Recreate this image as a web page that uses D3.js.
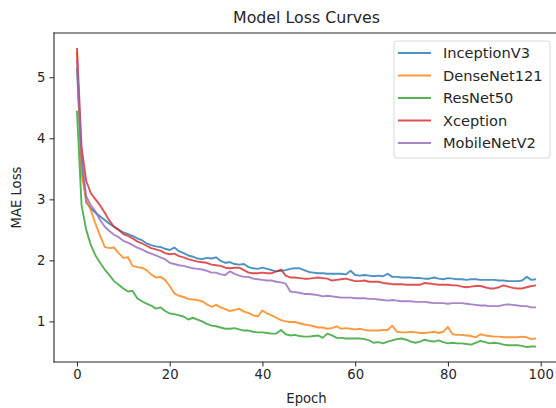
<!DOCTYPE html>
<html>
<head>
<meta charset="utf-8">
<script src="https://cdn.jsdelivr.net/npm/d3@7"></script>
<style>
  body { margin: 0; background: #fff; }
  svg { display: block; font-family: "DejaVu Sans", sans-serif; }
</style>
</head>
<body>
<div id="chart"></div>
<script>
const WIDTH = 556;
const HEIGHT = 408;

const MARGIN = {
  TOP: 33,
  RIGHT: -3,
  BOTTOM: 46,
  LEFT: 54,
};

const epochs = d3.range(0, 100);
const xTicks = [0, 20, 40, 60, 80, 100];
const yTicks = [1, 2, 3, 4, 5];

const models = ["InceptionV3", "DenseNet121", "ResNet50", "Xception", "MobileNetV2"];
const colors = ["#1f77b4", "#ff7f0e", "#2ca02c", "#d62728", "#9467bd"];

const inceptionV3 = [
  5.15, 3.55, 2.95, 2.85, 2.78, 2.72, 2.66, 2.60, 2.55, 2.50,
  2.46, 2.43, 2.40, 2.36, 2.33, 2.28, 2.25, 2.23, 2.22, 2.19,
  2.17, 2.21, 2.15, 2.12, 2.08, 2.06, 2.03, 2.02, 2.04, 2.03,
  2.05, 1.99, 1.96, 1.97, 1.94, 1.93, 1.94, 1.89, 1.87, 1.86,
  1.88, 1.86, 1.84, 1.82, 1.83, 1.84, 1.86, 1.87, 1.87, 1.84,
  1.81, 1.80, 1.79, 1.79, 1.78, 1.78, 1.78, 1.78, 1.77, 1.83,
  1.76, 1.75, 1.76, 1.75, 1.74, 1.75, 1.74, 1.78, 1.73, 1.73,
  1.72, 1.72, 1.72, 1.71, 1.71, 1.70, 1.70, 1.72, 1.70, 1.69,
  1.71, 1.70, 1.69, 1.69, 1.68, 1.69, 1.69, 1.68, 1.68, 1.68,
  1.68, 1.67, 1.67, 1.66, 1.66, 1.66, 1.67, 1.73, 1.68, 1.69,
];

const denseNet121 = [
  5.42, 3.40, 3.00, 2.82, 2.60, 2.40, 2.22, 2.20, 2.21, 2.12,
  2.04, 2.05, 1.91, 1.89, 1.88, 1.84, 1.77, 1.72, 1.73, 1.68,
  1.58, 1.46, 1.42, 1.40, 1.37, 1.36, 1.35, 1.33, 1.28, 1.24,
  1.27, 1.23, 1.20, 1.17, 1.19, 1.21, 1.16, 1.14, 1.10, 1.08,
  1.18, 1.13, 1.10, 1.06, 1.02, 1.00, 0.99, 0.99, 0.97, 0.95,
  0.94, 0.92, 0.90, 0.90, 0.88, 0.89, 0.92, 0.88, 0.89, 0.88,
  0.87, 0.88, 0.86, 0.85, 0.85, 0.85, 0.86, 0.86, 0.93, 0.83,
  0.82, 0.82, 0.83, 0.82, 0.81, 0.81, 0.82, 0.83, 0.81, 0.83,
  0.91, 0.79, 0.78, 0.78, 0.77, 0.76, 0.74, 0.79, 0.77, 0.76,
  0.75, 0.75, 0.74, 0.74, 0.74, 0.74, 0.75, 0.74, 0.71, 0.72,
];

const resNet50 = [
  4.45, 2.90, 2.50, 2.25, 2.08, 1.96, 1.85, 1.76, 1.66, 1.60,
  1.54, 1.49, 1.50, 1.38, 1.33, 1.29, 1.26, 1.21, 1.23, 1.17,
  1.13, 1.12, 1.10, 1.08, 1.03, 1.06, 1.03, 1.00, 0.96, 0.93,
  0.92, 0.90, 0.88, 0.88, 0.89, 0.87, 0.85, 0.85, 0.83, 0.82,
  0.82, 0.81, 0.80, 0.80, 0.86, 0.79, 0.77, 0.78, 0.76, 0.75,
  0.75, 0.76, 0.77, 0.73, 0.80, 0.77, 0.73, 0.73, 0.72, 0.72,
  0.72, 0.72, 0.71, 0.69, 0.65, 0.66, 0.64, 0.67, 0.69, 0.71,
  0.72, 0.70, 0.67, 0.65, 0.67, 0.70, 0.68, 0.67, 0.69, 0.66,
  0.64, 0.65, 0.64, 0.64, 0.63, 0.62, 0.65, 0.68, 0.66, 0.64,
  0.65, 0.64, 0.62, 0.61, 0.61, 0.61, 0.60, 0.58, 0.59, 0.59,
];

const xception = [
  5.48, 3.85, 3.30, 3.10, 3.00, 2.90, 2.78, 2.65, 2.55, 2.50,
  2.43, 2.40, 2.36, 2.31, 2.28, 2.24, 2.20, 2.18, 2.16, 2.12,
  2.10, 2.11, 2.07, 2.05, 2.02, 2.00, 1.98, 1.97, 1.96, 1.93,
  1.92, 1.91, 1.88, 1.87, 1.88, 1.88, 1.84, 1.80, 1.79, 1.79,
  1.80, 1.79, 1.79, 1.82, 1.85, 1.75, 1.72, 1.72, 1.71, 1.70,
  1.70, 1.71, 1.72, 1.71, 1.70, 1.67, 1.68, 1.69, 1.70, 1.68,
  1.66, 1.66, 1.67, 1.65, 1.65, 1.65, 1.63, 1.62, 1.61, 1.61,
  1.61, 1.60, 1.60, 1.60, 1.60, 1.63, 1.62, 1.61, 1.60, 1.60,
  1.60, 1.59, 1.59, 1.57, 1.56, 1.57, 1.58, 1.58, 1.56, 1.54,
  1.54, 1.56, 1.59, 1.57, 1.55, 1.54, 1.54, 1.56, 1.58, 1.59,
];

const mobileNetV2 = [
  5.28, 3.70, 3.05, 2.90, 2.80, 2.66, 2.55, 2.48, 2.42, 2.38,
  2.32, 2.29, 2.25, 2.21, 2.18, 2.14, 2.11, 2.08, 2.05, 2.02,
  1.96, 1.94, 1.92, 1.91, 1.89, 1.87, 1.86, 1.85, 1.83, 1.80,
  1.80, 1.77, 1.76, 1.82, 1.78, 1.75, 1.73, 1.73, 1.70, 1.69,
  1.68, 1.67, 1.67, 1.65, 1.64, 1.62, 1.49, 1.48, 1.47, 1.45,
  1.45, 1.44, 1.43, 1.41, 1.42, 1.41, 1.40, 1.39, 1.39, 1.39,
  1.38, 1.38, 1.38, 1.37, 1.37, 1.36, 1.35, 1.34, 1.35, 1.34,
  1.33, 1.33, 1.33, 1.32, 1.32, 1.32, 1.31, 1.30, 1.30, 1.30,
  1.29, 1.30, 1.30, 1.30, 1.29, 1.28, 1.27, 1.26, 1.26, 1.25,
  1.25, 1.25, 1.27, 1.28, 1.27, 1.26, 1.25, 1.25, 1.23, 1.23,
];

const seriesValues = [inceptionV3, denseNet121, resNet50, xception, mobileNetV2];

const innerWidth = WIDTH - MARGIN.LEFT - MARGIN.RIGHT;
const innerHeight = HEIGHT - MARGIN.TOP - MARGIN.BOTTOM;
const visibleWidth = WIDTH - MARGIN.LEFT;

const svg = d3
  .select("#chart")
  .append("svg")
  .attr("width", WIDTH)
  .attr("height", HEIGHT);

const g = svg
  .append("g")
  .attr("transform", `translate(${MARGIN.LEFT}, ${MARGIN.TOP})`);

// matplotlib style 5% padding on both axes
const xExtent = d3.extent(epochs);
const xPad = (xExtent[1] - xExtent[0]) * 0.05;
const x = d3
  .scaleLinear()
  .domain([xExtent[0] - xPad, xExtent[1] + xPad])
  .range([0, innerWidth]);

const yMin = d3.min(seriesValues, (s) => d3.min(s));
const yMax = d3.max(seriesValues, (s) => d3.max(s));
const yPad = (yMax - yMin) * 0.05;
const y = d3
  .scaleLinear()
  .domain([yMin - yPad, yMax + yPad])
  .range([innerHeight, 0]);

svg
  .append("defs")
  .append("clipPath")
  .attr("id", "clip")
  .append("rect")
  .attr("width", visibleWidth)
  .attr("height", innerHeight);

const line = d3
  .line()
  .x((d, i) => x(epochs[i]))
  .y((d) => y(d));

g.append("g")
  .attr("clip-path", "url(#clip)")
  .selectAll("path")
  .data(seriesValues)
  .enter()
  .append("path")
  .attr("d", (d) => line(d))
  .attr("fill", "none")
  .attr("stroke", (d, i) => colors[i])
  .attr("stroke-width", 1.9)
  .attr("stroke-opacity", 0.8)
  .attr("stroke-linejoin", "round");

const xAxis = g
  .append("g")
  .attr("transform", `translate(0, ${innerHeight})`)
  .call(d3.axisBottom(x).tickValues(xTicks).tickFormat(d3.format("d")).tickSize(4.5).tickPadding(3))
  .call((sel) => sel.select(".domain").remove());

const yAxis = g
  .append("g")
  .call(d3.axisLeft(y).tickValues(yTicks).tickFormat(d3.format("d")).tickSize(4.5).tickPadding(4))
  .call((sel) => sel.select(".domain").remove());

[xAxis, yAxis].forEach((a) => {
  a.attr("font-size", "13.2px").attr("font-family", "DejaVu Sans, sans-serif");
  a.selectAll("text").attr("fill", "#262626");
  a.selectAll("line").attr("stroke", "#262626").attr("stroke-width", 1);
});

// spines: left, top, bottom (the right one is past the picture edge)
const spines = [
  [0, 0, 0, innerHeight],
  [0, 0, visibleWidth, 0],
  [0, innerHeight, visibleWidth, innerHeight],
];
g.selectAll(".spine")
  .data(spines)
  .enter()
  .append("line")
  .attr("class", "spine")
  .attr("x1", (d) => d[0])
  .attr("y1", (d) => d[1])
  .attr("x2", (d) => d[2])
  .attr("y2", (d) => d[3])
  .attr("stroke", "#262626")
  .attr("stroke-width", 1.1)
  .attr("stroke-linecap", "square");

g.append("text")
  .attr("x", innerWidth / 2)
  .attr("y", -10)
  .attr("text-anchor", "middle")
  .attr("font-size", "15.8px")
  .attr("fill", "#262626")
  .text("Model Loss Curves");

g.append("text")
  .attr("x", innerWidth / 2)
  .attr("y", innerHeight + 41)
  .attr("text-anchor", "middle")
  .attr("font-size", "13.2px")
  .attr("fill", "#262626")
  .text("Epoch");

g.append("text")
  .attr("transform", `translate(${-33}, ${innerHeight / 2}) rotate(-90)`)
  .attr("text-anchor", "middle")
  .attr("font-size", "13.2px")
  .attr("fill", "#262626")
  .text("MAE Loss");

// legend
const legend = svg.append("g").attr("transform", "translate(394, 41)");

legend
  .append("rect")
  .attr("width", 156)
  .attr("height", 117)
  .attr("rx", 3)
  .attr("fill", "#fff")
  .attr("fill-opacity", 0.8)
  .attr("stroke", "#d9d9d9")
  .attr("stroke-width", 1);

const rows = legend
  .selectAll(".row")
  .data(models)
  .enter()
  .append("g")
  .attr("class", "row")
  .attr("transform", (d, i) => `translate(0, ${12 + i * 22.5})`);

rows
  .append("line")
  .attr("x1", 4)
  .attr("x2", 37)
  .attr("stroke", (d, i) => colors[i])
  .attr("stroke-width", 1.9)
  .attr("stroke-opacity", 0.8);

rows
  .append("text")
  .attr("x", 49)
  .attr("dy", "0.35em")
  .attr("font-size", "14.6px")
  .attr("fill", "#262626")
  .text((d) => d);
</script>
</body>
</html>
